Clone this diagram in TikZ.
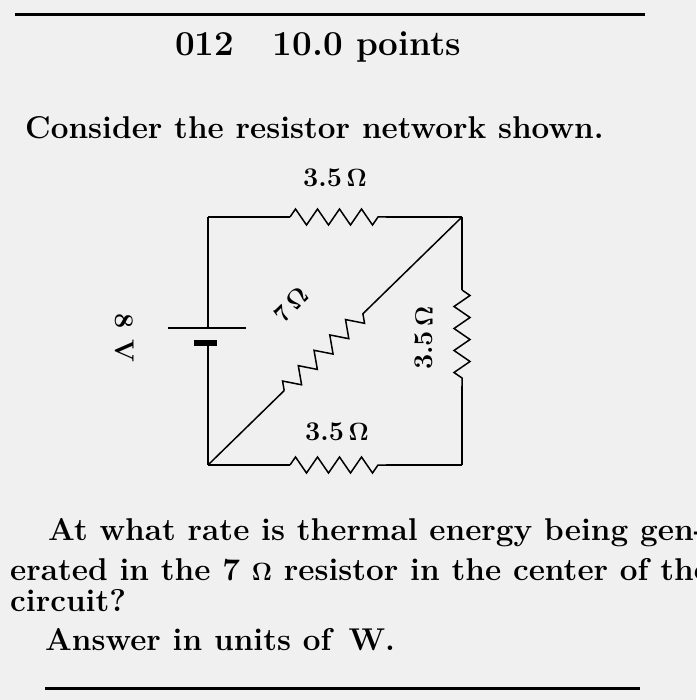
\documentclass[tikz,border=0pt]{standalone}
\usetikzlibrary{decorations.pathmorphing,calc}
\begin{document}
\begin{tikzpicture}[x=1pt,y=-1pt,
  wire/.style={line width=1.5pt},
  res/.style={line width=1.5pt,decorate,decoration={zigzag,segment length=22pt,amplitude=8pt}},
  txt/.style={anchor=west,inner sep=0pt,font=\fontsize{31.5}{36}\selectfont\bfseries},
  lbl/.style={inner sep=0pt,font=\fontsize{27}{30}\selectfont\bfseries}]
\fill[gray!12] (0,0) rectangle (696,700);
\useasboundingbox (0,0) rectangle (696,700);
\coordinate (tl1) at (15,15); \coordinate (tr1) at (645,15);
\draw[line width=3pt] (tl1) -- (tr1);
\coordinate (bl1) at (45,688); \coordinate (br1) at (640,688);
\draw[line width=3pt] (bl1) -- (br1);
\node[txt,font=\fontsize{35}{40}\selectfont\bfseries] (hd) at (175,47) {012\hspace{1.1em}10.0 points};
\node[txt] (t1) at (25,128) {Consider the resistor network shown.};
% corners
\coordinate (A) at (208,217); \coordinate (B) at (462,217);
\coordinate (C) at (462,465); \coordinate (D) at (208,465);
% top
\coordinate (r1a) at (290,217); \coordinate (r1b) at (386,217);
\draw[wire] (A) -- (r1a); \draw[res] (r1a) -- (r1b); \draw[wire] (r1b) -- (B);
\node[lbl] (l1) at (335,178) {3.5\,$\mathbf\Omega$};
% right
\coordinate (r2a) at (462,290); \coordinate (r2b) at (462,386);
\draw[wire] (B) -- (r2a); \draw[res] (r2a) -- (r2b); \draw[wire] (r2b) -- (C);
\node[lbl,rotate=90] (l2) at (424,338) {3.5\,$\mathbf\Omega$};
% bottom
\coordinate (r3a) at (290,465); \coordinate (r3b) at (386,465);
\draw[wire] (D) -- (r3a); \draw[res] (r3a) -- (r3b); \draw[wire] (r3b) -- (C);
\node[lbl] (l3) at (337,432) {3.5\,$\mathbf\Omega$};
% diagonal
\coordinate (r4a) at ($(D)!0.30!(B)$); \coordinate (r4b) at ($(D)!0.62!(B)$);
\draw[wire] (D) -- (r4a); \draw[res] (r4a) -- (r4b); \draw[wire] (r4b) -- (B);
\node[lbl,rotate=45,font=\fontsize{24}{28}\selectfont\bfseries] (l4) at (291,305) {7\,$\mathbf\Omega$};
% left with battery
\coordinate (p1) at (208,328); \coordinate (p2) at (208,343);
\draw[wire] (A) -- (p1); \draw[wire] (p2) -- (D);
\coordinate (pl1) at (168,328); \coordinate (pr1) at (246,328);
\draw[line width=1.5pt] (pl1) -- (pr1);
\coordinate (pl2) at (194,343); \coordinate (pr2) at (217,343);
\draw[line width=6pt] (pl2) -- (pr2);
\node[lbl,rotate=-90] (l5) at (125,338) {8 V};
\node[txt] (t2) at (48,533) {At what rate is thermal energy being gen-};
\node[txt] (t3) at (10,570) {erated in the 7 $\mathbf\Omega$ resistor in the center of the};
\node[txt] (t4) at (10,601) {circuit?};
\node[txt] (t5) at (45,640) {Answer in units of \,W.};
\end{tikzpicture}
\end{document}
